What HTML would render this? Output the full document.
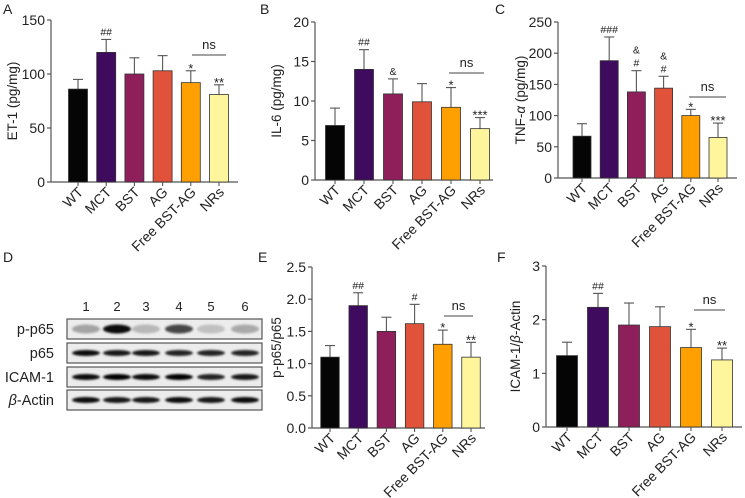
<!DOCTYPE html>
<html><head><meta charset="utf-8">
<style>
html,body{margin:0;padding:0;background:#fff;}
svg{display:block;font-family:"Liberation Sans",Arial,sans-serif;}
</style></head>
<body>
<svg id="fig" width="745" height="498" viewBox="0 0 745 498" xmlns="http://www.w3.org/2000/svg">
<defs>
<filter id="blur" x="-20%" y="-50%" width="140%" height="200%"><feGaussianBlur stdDeviation="1.1"/></filter>
</defs>
</svg>
<script>
const categories = ["WT","MCT","BST","AG","Free BST-AG","NRs"];
const colors = ["#050505","#3e0b5f","#8e1f5b","#e0533a","#ffa000","#fff59c"];
// Panel A: ET-1
const aValues = [86,120,100,103,92,81];
const aErrors = [95,132,115,117,103,90];
const aTicks = [0,50,100,150];
const aMarks = ["","##","","","*","**"];
// Panel B: IL-6
const bValues = [6.9,14,10.9,9.9,9.2,6.5];
const bErrors = [9.1,16.5,12.8,12.2,11.7,7.9];
const bTicks = [0,5,10,15,20];
const bMarks = ["","##","&","","*","***"];
// Panel C: TNF-a
const cValues = [67,188,138,144,100,65];
const cErrors = [87,226,172,163,110,88];
const cTicks = [0,50,100,150,200,250];
const cMarks = ["","###","&\n#","&\n#","*","***"];
// Panel E: p-p65/p65
const eValues = [1.1,1.9,1.5,1.62,1.3,1.1];
const eErrors = [1.28,2.1,1.72,1.92,1.52,1.33];
const eTicks = [0,0.5,1.0,1.5,2.0,2.5];
const eMarks = ["","##","","#","*","**"];
// Panel F: ICAM-1/b-Actin
const fValues = [1.33,2.23,1.9,1.87,1.48,1.25];
const fErrors = [1.58,2.49,2.31,2.24,1.82,1.47];
const fTicks = [0,1,2,3];
const fMarks = ["","##","","","*","**"];
// Western blot
const lanes = ["1","2","3","4","5","6"];
const blotRows = ["p-p65","p65","ICAM-1","β-Actin"];
const blotIntensity = [
  [0.3,0.95,0.22,0.7,0.18,0.28],
  [0.95,0.9,0.9,0.85,0.85,0.85],
  [0.95,1.0,0.95,1.0,0.85,0.9],
  [0.95,0.9,0.9,0.95,0.9,0.95]
];

const NS="http://www.w3.org/2000/svg";
const svg=document.getElementById('fig');
function el(tag,attrs,parent){const e=document.createElementNS(NS,tag);for(const k in attrs)e.setAttribute(k,attrs[k]);(parent||svg).appendChild(e);return e;}

function panel(cfg){
  const g=el('g',{});
  
  
  const ymax=cfg.ticks[cfg.ticks.length-1];
  const y=v=>cfg.y0-(v/ymax)*(cfg.y0-cfg.y1);
  const x=i=>cfg.x0+cfg.first+i*cfg.step;
  const L=el('text',{x:cfg.lx,y:cfg.ly,'font-size':14,fill:'#222'},g);L.textContent=cfg.letter;
  
  
  const ya=el('line',{x1:cfg.x0,y1:cfg.y1,x2:cfg.x0,y2:cfg.y0,stroke:'#555','stroke-width':1.2},g);
  
  
  const xa=el('line',{x1:cfg.x0,y1:cfg.y0,x2:cfg.xend,y2:cfg.y0,stroke:'#555','stroke-width':1.2},g);
  
  
  cfg.ticks.forEach(t=>{
    el('line',{x1:cfg.x0-4,y1:y(t),x2:cfg.x0,y2:y(t),stroke:'#555','stroke-width':1.2},g);
    const tx=el('text',{x:cfg.x0-6,y:y(t)+5,'font-size':14,'text-anchor':'end',fill:'#222'},g);
    tx.textContent=cfg.fmt?t.toFixed(1):t;
    
    
  });
  const yt=el('text',{transform:`translate(${cfg.titleX},${(cfg.y0+cfg.y1)/2}) rotate(-90)`,'font-size':13.5,'text-anchor':'middle',fill:'#222'},g);
  yt.innerHTML=cfg.title;
  
  
  cfg.values.forEach((v,i)=>{
    const cx=x(i),w=cfg.bw;
    el('line',{x1:cx,y1:y(v),x2:cx,y2:y(cfg.errors[i]),stroke:'#555','stroke-width':1.1},g);
    el('line',{x1:cx-5,y1:y(cfg.errors[i]),x2:cx+5,y2:y(cfg.errors[i]),stroke:'#555','stroke-width':1.1},g);
    const b=el('rect',{x:cx-w/2,y:y(v),width:w,height:cfg.y0-y(v),fill:colors[i],stroke:'#333','stroke-width':0.8},g);
    
    
    el('line',{x1:cx,y1:cfg.y0,x2:cx,y2:cfg.y0+4,stroke:'#555','stroke-width':1.1},g);
    const c=el('text',{transform:`translate(${cx+6},${cfg.y0+11}) rotate(-45)`,'font-size':14,'text-anchor':'end',fill:'#222'},g);
    c.textContent=categories[i];
    
    
    const m=cfg.marks[i];
    if(m){
      const lines=m.split('\n');
      lines.forEach((s,k)=>{
        const star=s.indexOf('*')>=0;
        const t=el('text',{x:cx,y:y(cfg.errors[i])-4-(lines.length-1-k)*13+(star?6:0),'font-size':star?13:10.5,'text-anchor':'middle',fill:'#222'},g);
        t.textContent=s;
        
        
      });
    }
  });
  const nl=el('line',{x1:cfg.ns[0],y1:cfg.ns[2],x2:cfg.ns[1],y2:cfg.ns[2],stroke:'#444','stroke-width':1},g);
  
  
  const nt=el('text',{x:(cfg.ns[0]+cfg.ns[1])/2,y:cfg.ns[2]-6,'font-size':13,'text-anchor':'middle',fill:'#222'},g);
  nt.textContent='ns';
  
  
}

panel({name:'panel-a-et1',letter:'A',lx:3,ly:14,x0:51,xend:238,y0:182,y1:20,first:27,step:28.2,bw:19,ticks:aTicks,values:aValues,errors:aErrors,marks:aMarks,title:'ET-1 (pg/mg)',titleX:17,ns:[192,226,55]});
panel({name:'panel-b-il6',letter:'B',lx:260,ly:14,x0:315,xend:493,y0:180,y1:22,first:20,step:29,bw:19,ticks:bTicks,values:bValues,errors:bErrors,marks:bMarks,title:'IL-6 (pg/mg)',titleX:281,ns:[449,484,73]});
panel({name:'panel-c-tnfa',letter:'C',lx:495,ly:14,x0:558,xend:737,y0:178,y1:22,first:24,step:27.2,bw:18,ticks:cTicks,values:cValues,errors:cErrors,marks:cMarks,title:'TNF-<tspan font-style="italic">α</tspan> (pg/mg)',titleX:525,ns:[689,726,97]});
panel({name:'panel-e-pp65',letter:'E',lx:258,ly:262,x0:312,xend:485,y0:428,y1:267,first:18,step:28.2,bw:18.5,ticks:eTicks,values:eValues,errors:eErrors,marks:eMarks,fmt:true,title:'p-p65/p65',titleX:281,ns:[444,473,316]});
panel({name:'panel-f-icam1',letter:'F',lx:497,ly:262,x0:546,xend:742,y0:427,y1:266,first:21,step:31,bw:21,ticks:fTicks,values:fValues,errors:fErrors,marks:fMarks,title:'ICAM-1/<tspan font-style="italic">β</tspan>-Actin',titleX:520,ns:[694,725,310]});

(function(){
  const g=el('g',{});
  
  
  const L=el('text',{x:3,y:262,'font-size':14,fill:'#222'},g);L.textContent='D';
  
  
  const laneX=[86,117,146,179,211,245];
  lanes.forEach((n,i)=>{
    const t=el('text',{x:laneX[i],y:311,'font-size':13,'text-anchor':'middle',fill:'#222'},g);
    t.textContent=n;
    
    
  });
  const rowsY=[319,343,367,390];
  blotRows.forEach((r,k)=>{
    const y0=rowsY[k],h=20;
    const box=el('rect',{x:67,y:y0,width:195,height:h,fill:'#ececec',stroke:'#555','stroke-width':1.2},g);
    
    
    blotIntensity[k].forEach((a,i)=>{
      el('ellipse',{cx:laneX[i],cy:y0+h/2,rx:14,ry:k===0?4.5:3,fill:'#000',opacity:a,filter:'url(#blur)'},g);
    });
    const t=el('text',{x:54,y:y0+h/2+5,'font-size':14.5,'text-anchor':'end',fill:'#222'},g);
    if(r==='β-Actin'){t.innerHTML='<tspan font-style="italic">β</tspan>-Actin';}else t.textContent=r;
    
    
  });
})();
</script>
</body></html>
